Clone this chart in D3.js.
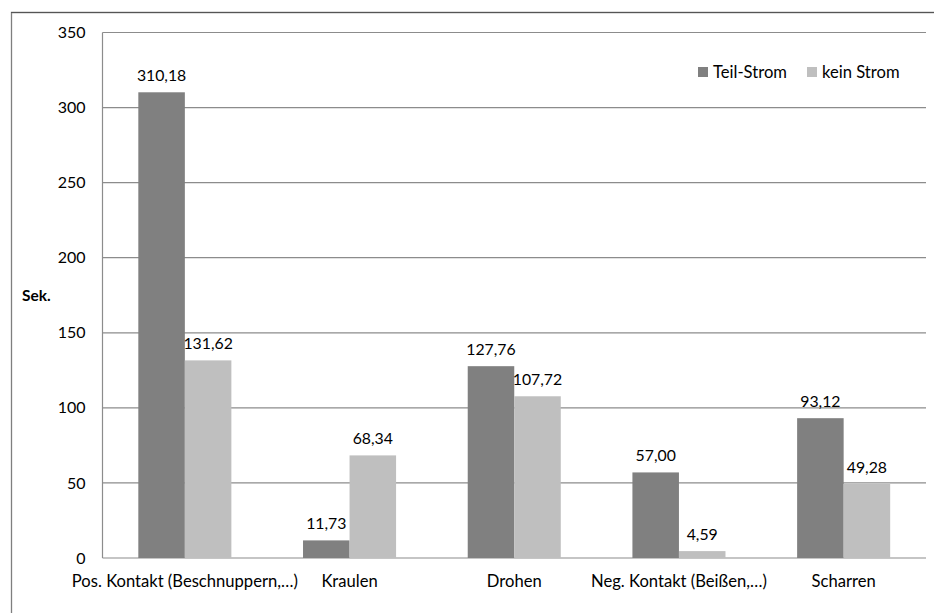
<!DOCTYPE html>
<html>
<head>
<meta charset="utf-8">
<script src="https://cdn.jsdelivr.net/npm/d3@7"></script>
<style>
  html, body { margin: 0; padding: 0; background: #fff; }
  svg { display: block; }
  text { font-family: Lato, "Open Sans", sans-serif; fill: #000; }
</style>
</head>
<body>
<svg id="chart" width="934" height="613"></svg>
<script>
const categories = ["Pos. Kontakt (Beschnuppern,…)", "Kraulen", "Drohen", "Neg. Kontakt (Beißen,…)", "Scharren"];
const seriesNames = ["Teil-Strom", "kein Strom"];
const teilStrom = [310.18, 11.73, 127.76, 57.00, 93.12];
const keinStrom = [131.62, 68.34, 107.72, 4.59, 49.28];
const yTicks = [0, 50, 100, 150, 200, 250, 300, 350];
const yLabel = "Sek.";
const colors = ["#808080", "#bfbfbf"];

const svg = d3.select("#chart");
const W = 934, H = 613;
const plot = { left: 102.5, right: 926, top: 32.5, bottom: 558 };

// outer chart border
svg.append("path")
  .attr("d", `M11.5,${H + 5}V12.5H${W + 5}`)
  .attr("fill", "none")
  .attr("stroke", "#7f7f7f")
  .attr("stroke-width", 1.3);
svg.append("line")
  .attr("x1", 11).attr("x2", W + 5).attr("y1", 12.5).attr("y2", 12.5)
  .attr("stroke", "#555").attr("stroke-width", 1.2);

const y = d3.scaleLinear().domain([0, 350]).range([plot.bottom, plot.top]);
const x0 = d3.scaleBand().domain(categories).range([plot.left, plot.right]).padding(0);
const bw = x0.bandwidth() * 0.2825;
const x1 = d3.scaleOrdinal().domain(seriesNames).range([-bw, 0]);

// gridlines
svg.append("g").selectAll("line").data(yTicks).join("line")
  .attr("x1", plot.left).attr("x2", plot.right)
  .attr("y1", d => y(d)).attr("y2", d => y(d))
  .attr("stroke", "#8c8c8c").attr("stroke-width", 1.2);

// y axis line
svg.append("line")
  .attr("x1", plot.left).attr("x2", plot.left)
  .attr("y1", plot.top).attr("y2", plot.bottom)
  .attr("stroke", "#8c8c8c").attr("stroke-width", 1.2);

// y tick labels via axis
const yAxis = d3.axisLeft(y).tickValues(yTicks).tickSize(0).tickPadding(17);
const ya = svg.append("g").attr("transform", `translate(${plot.left},0)`).call(yAxis);
ya.select(".domain").remove();
ya.selectAll("text").attr("font-size", 16).attr("fill", "#000")
  .style("font-family", "Lato, 'Open Sans', sans-serif");

// y label
svg.append("text").attr("x", 22).attr("y", 301)
  .attr("font-size", 15.5).attr("font-weight", "bold").text(yLabel);

// bars
const data = [teilStrom, keinStrom];
const fmt = v => v.toFixed(2).replace(".", ",");
seriesNames.forEach((s, si) => {
  const g = svg.append("g");
  g.selectAll("rect").data(categories).join("rect")
    .attr("x", c => x0(c) + x0.bandwidth() / 2 + x1(s))
    .attr("width", bw)
    .attr("y", (c, i) => y(data[si][i]))
    .attr("height", (c, i) => y(0) - y(data[si][i]))
    .attr("fill", colors[si]);
  g.selectAll("text").data(categories).join("text")
    .attr("x", c => x0(c) + x0.bandwidth() / 2 + x1(s) + bw / 2)
    .attr("y", (c, i) => y(data[si][i]) - 11)
    .attr("text-anchor", "middle")
    .attr("font-size", 15.8)
    .text((c, i) => fmt(data[si][i]));
});

// x axis labels
const xAxis = d3.axisBottom(x0).tickSize(0).tickPadding(17);
const xa = svg.append("g").attr("transform", `translate(0,${plot.bottom})`).call(xAxis);
xa.select(".domain").remove();
xa.selectAll("text").attr("font-size", 16.6).attr("fill", "#000")
  .style("font-family", "Lato, 'Open Sans', sans-serif");

// legend
const legendX = [698, 807];
const lg = svg.append("g");
seriesNames.forEach((s, i) => {
  lg.append("rect").attr("x", legendX[i]).attr("y", 67).attr("width", 10).attr("height", 10).attr("fill", colors[i]);
  lg.append("text").attr("x", legendX[i] + 15).attr("y", 78).attr("font-size", 16.6).text(s);
});
</script>
</body>
</html>
